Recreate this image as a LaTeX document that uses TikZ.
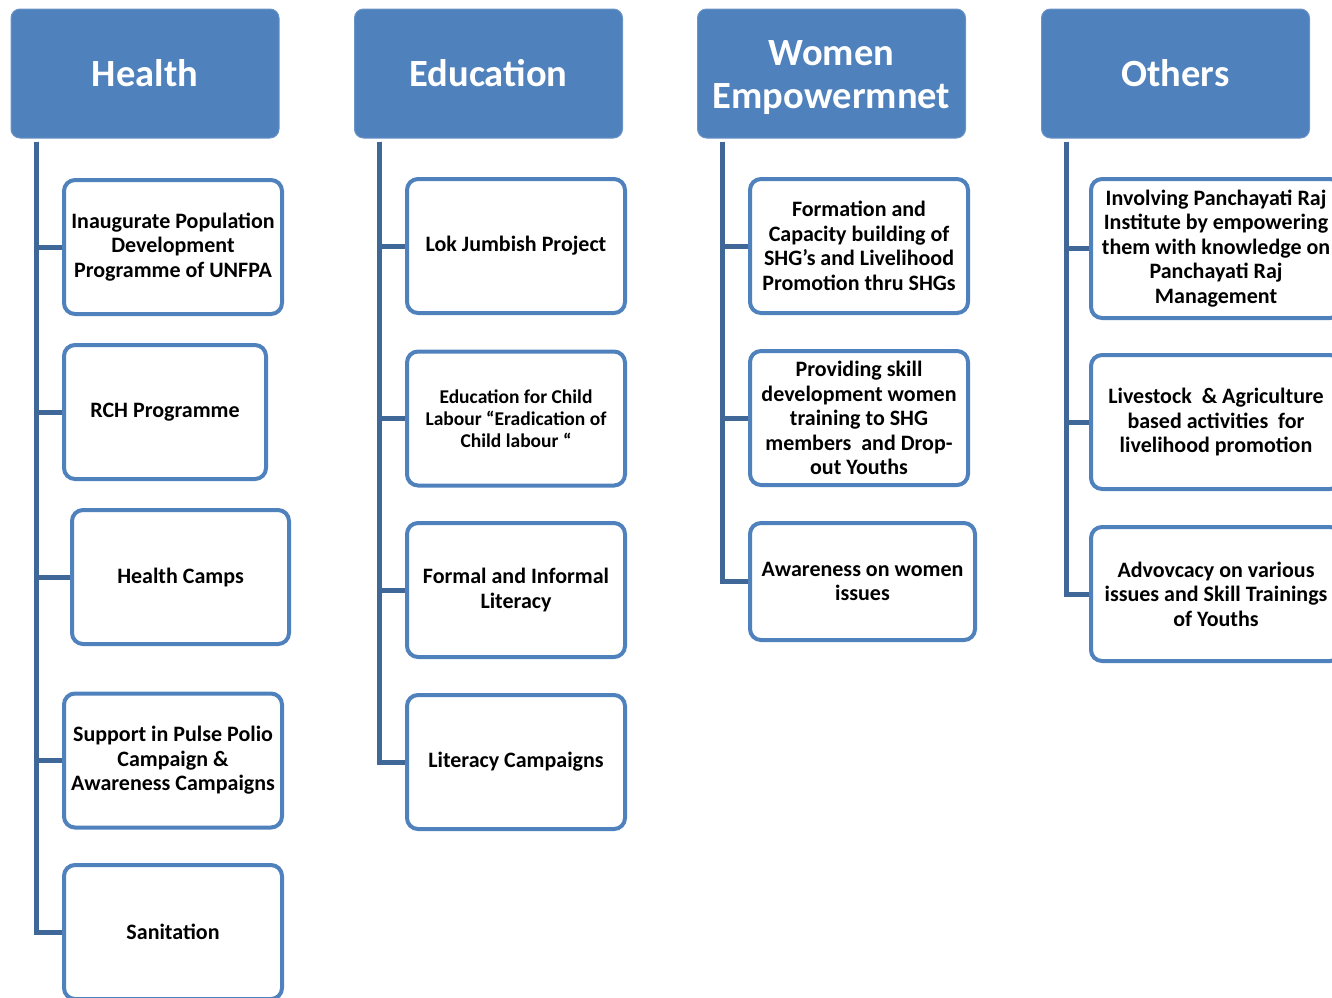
\documentclass[tikz,border=0pt]{standalone}
\usepackage{fontspec}
\setmainfont{Carlito}
\definecolor{hdrblue}{HTML}{4F81BD}
\definecolor{hdredge}{HTML}{6A94C6}
\definecolor{boxedge}{HTML}{4F81BD}
\definecolor{connblue}{HTML}{3F6797}
\tikzset{
  hdr/.style={rectangle, rounded corners=9pt, fill=hdrblue, draw=hdredge, line width=1pt,
    minimum width=268pt, minimum height=129pt, text=white, align=center,
    font=\bfseries\fontsize{38.5}{43}\selectfont, inner sep=0pt},
  hdrtext/.style={text=white, align=center, inner sep=0pt,
    font=\bfseries\fontsize{38.5}{43}\selectfont},
  item/.style={rectangle, rounded corners=11pt, fill=white, draw=boxedge, line width=4pt,
    minimum height=134pt, align=center, inner sep=0pt,
    font=\bfseries\fontsize{22}{24.5}\selectfont},
  conn/.style={draw=connblue, line width=5pt}
}
\begin{document}
\begin{tikzpicture}[x=1pt,y=-1pt]
\useasboundingbox (0,0) rectangle (1332,997);
\clip (0,0) rectangle (1332,997);
% headers
\node[hdr] (h) at (145,73.5) {Health};
\node[hdr] (e) at (488.5,73.5) {Education};
\node[hdr] (w) at (831.5,73.5) {};
\node[hdrtext] (wt) at ([yshift=-4pt]w.center) {Women\\Empowermnet};
\node[hdr] (o) at (1175.5,73.5) {Others};
% Health items
\node[item, minimum width=218pt] (h1) at (173,247) {Inaugurate Population\\Development\\Programme of UNFPA};
\node[item, minimum width=202pt] (h2) at (165,412) {RCH Programme};
\node[item, minimum width=217pt] (h3) at (180.5,577) {Health Camps};
\node[item, minimum width=218pt] (h4) at (173,760.5) {Support in Pulse Polio\\Campaign \&\\Awareness Campaigns};
\node[item, minimum width=218pt] (h5) at (173,932) {Sanitation};
% Education items
\node[item, minimum width=218pt] (e1) at (516,246) {Lok Jumbish Project};
\node[item, minimum width=218pt, font=\bfseries\fontsize{19.5}{22}\selectfont] (e2) at (516,418.5) {Education for Child\\Labour “Eradication of\\Child labour “};
\node[item, minimum width=218pt] (e3) at (516,590) {Formal and Informal\\Literacy};
\node[item, minimum width=218pt] (e4) at (516,762) {Literacy Campaigns};
% Women items
\node[item, minimum width=218pt] (w1) at (859,246) {Formation and\\Capacity building of\\SHG’s and Livelihood\\Promotion thru SHGs};
\node[item, minimum width=218pt] (w2) at (859,418) {Providing skill\\development women\\training to SHG\\members\ \ and Drop-\\out Youths};
\node[item, minimum width=225pt, minimum height=117pt] (w3) at (862.5,581.5) {Awareness on women\\issues};
% Others items
\node[item, minimum width=250pt, minimum height=139pt] (o1) at (1216,248.5) {Involving Panchayati Raj\\Institute by empowering\\them with knowledge on\\Panchayati Raj\\Management};
\node[item, minimum width=250pt] (o2) at (1216,422) {Livestock\ \ \& Agriculture\\based activities\ \ for\\livelihood promotion};
\node[item, minimum width=250pt] (o3) at (1216,594) {Advovcacy on various\\issues and Skill Trainings\\of Youths};
% connectors
\coordinate (hc) at ([xshift=26pt,yshift=-3pt]h.south west);
\coordinate (ec) at ([xshift=25pt,yshift=-3pt]e.south west);
\coordinate (wc) at ([xshift=25pt,yshift=-3pt]w.south west);
\coordinate (oc) at ([xshift=25pt,yshift=-3pt]o.south west);
\foreach \c in {h1,h2,h3,h4,h5} \draw[conn] (hc) |- (\c.west);
\foreach \c in {e1,e2,e3,e4} \draw[conn] (ec) |- (\c.west);
\foreach \c in {w1,w2,w3} \draw[conn] (wc) |- (\c.west);
\foreach \c in {o1,o2,o3} \draw[conn] (oc) |- (\c.west);
\end{tikzpicture}
\end{document}
